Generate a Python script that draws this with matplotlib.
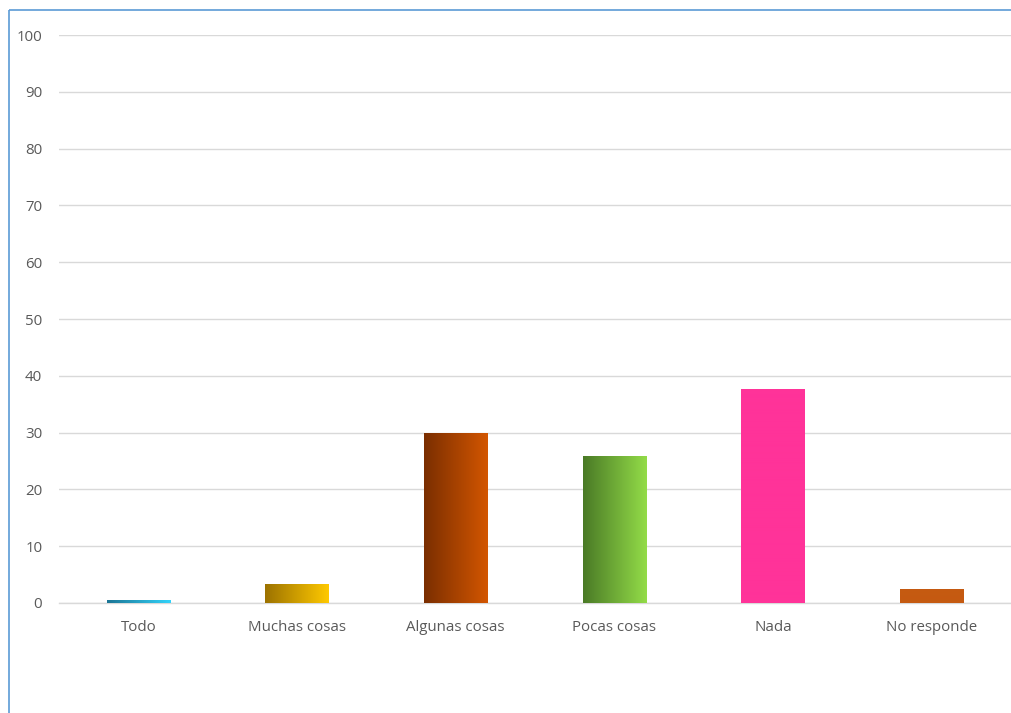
import matplotlib
matplotlib.use("Agg")
import matplotlib.pyplot as plt
from matplotlib.colors import LinearSegmentedColormap
from matplotlib.lines import Line2D
import numpy as np

categories = ['Todo', 'Muchas cosas', 'Algunas cosas', 'Pocas cosas', 'Nada', 'No responde']
values = [0.5, 3.3, 30.0, 25.9, 37.6, 2.5]
# (left colour, right colour) of each bar's horizontal gradient
bar_colors = [('#1b7595', '#33d3fa'),
              ('#9c7200', '#ffc900'),
              ('#7a2e00', '#d35600'),
              ('#4a7a26', '#93dc48'),
              ('#ff3399', '#ff3399'),
              ('#c55a11', '#c55a11')]

plt.rcParams['font.family'] = ['Open Sans', 'DejaVu Sans']

fig = plt.figure(figsize=(10.11, 7.13), dpi=100)
fig.set_facecolor('white')
ax = fig.add_axes([59 / 1011, 110 / 713, 952 / 1011, 568 / 713])
ax.set_facecolor('white')

x = np.arange(len(categories))
bars = ax.bar(x, values, width=0.4, color='none', zorder=3)

# paint gradients inside each bar
grad = np.linspace(0, 1, 256).reshape(1, -1)
for b, (c1, c2) in zip(bars, bar_colors):
    cmap = LinearSegmentedColormap.from_list('g', [c1, c2])
    x0, y0 = b.get_x(), b.get_y()
    w, h = b.get_width(), b.get_height()
    im = ax.imshow(grad, cmap=cmap, aspect='auto', extent=(x0, x0 + w, y0, y0 + h),
                   zorder=3, interpolation='bilinear')
    im.set_clip_path(b)

ax.set_xlim(-0.5, len(categories) - 0.5)
ax.set_ylim(0, 100)
ax.set_yticks(np.arange(0, 101, 10))
ax.set_xticks(x)
ax.set_xticklabels(categories)
ax.grid(axis='y', color='#d9d9d9', linewidth=1, zorder=0)
ax.set_axisbelow(True)
for s in ['top', 'right', 'left']:
    ax.spines[s].set_visible(False)
ax.spines['bottom'].set_color('#d9d9d9')
ax.spines['bottom'].set_linewidth(1)
ax.tick_params(axis='both', length=0, labelsize=10.8, labelcolor='#595959')
ax.tick_params(axis='y', pad=12)
ax.tick_params(axis='x', pad=12)

# chart frame (only left and top visible in the crop)
fig.add_artist(Line2D([9 / 1011, 9 / 1011], [-0.01, 1 - 10 / 713], color='#5b9bd5',
                      linewidth=1.2, solid_capstyle='butt', transform=fig.transFigure))
fig.add_artist(Line2D([9 / 1011, 1.01], [1 - 10 / 713, 1 - 10 / 713], color='#5b9bd5',
                      linewidth=1.2, solid_capstyle='butt', transform=fig.transFigure))

fig.savefig('out.png', dpi=100)
